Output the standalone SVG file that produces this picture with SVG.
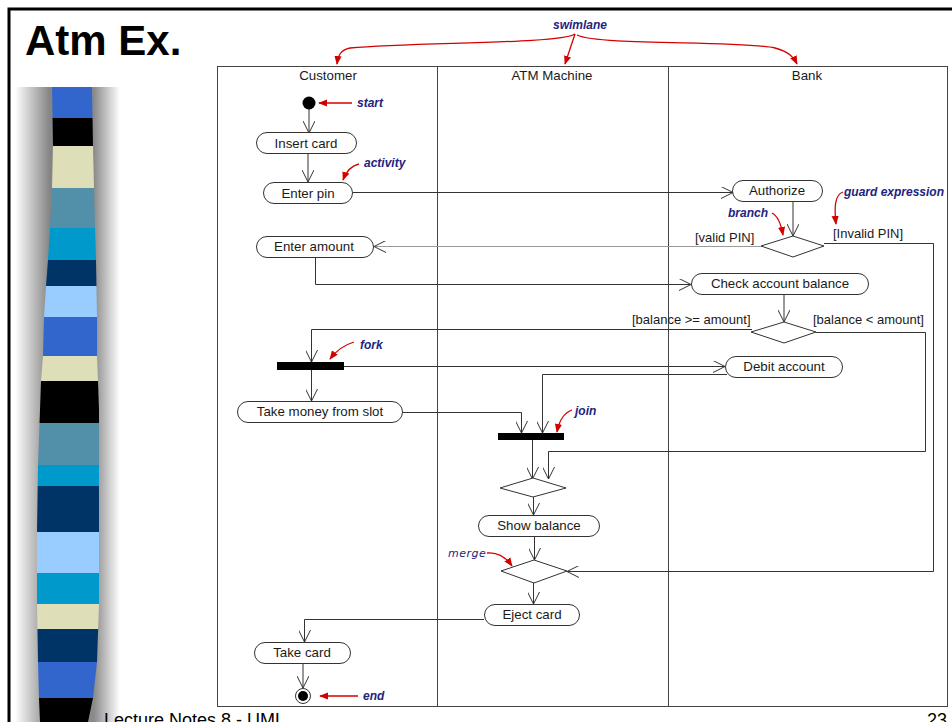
<svg xmlns="http://www.w3.org/2000/svg" width="952" height="722" viewBox="0 0 952 722">
  <defs>
    <style>
      .node { fill: #ffffff; stroke: #333333; stroke-width: 1; }
      .bar { fill: #000000; }
      .lbl { font-family: "Liberation Sans", Arial, sans-serif; font-size: 13.3px; fill: #1a1a1a; text-anchor: middle; }
      .guard { font-family: "Liberation Sans", Arial, sans-serif; font-size: 13px; fill: #1a1a1a; }
      .lane { fill: none; stroke: #444444; stroke-width: 1; }
      .flow { fill: none; stroke: #333333; stroke-width: 1; marker-end: url(#open); }
      .note { font-family: "Liberation Sans", Arial, sans-serif; font-size: 12px; font-weight: bold; font-style: italic; fill: #23237e; }
      .pointer { fill: none; stroke: #d40000; stroke-width: 1.3; marker-end: url(#redhead); }
    </style>
    <marker id="open" viewBox="0 0 12 12" refX="12" refY="6" markerWidth="12" markerHeight="12" markerUnits="userSpaceOnUse" orient="auto">
      <path d="M0,0 L12,6 L0,12" fill="none" stroke="#333333" stroke-width="1"/>
    </marker>
    <marker id="redhead" viewBox="0 0 10 8" refX="9" refY="4" markerWidth="9" markerHeight="8" markerUnits="userSpaceOnUse" orient="auto">
      <path d="M0,0 L10,4 L0,8 z" fill="#d40000"/>
    </marker>
    <linearGradient id="shade" gradientUnits="userSpaceOnUse" x1="15" y1="0" x2="120" y2="0">
      <stop offset="0" stop-color="#ffffff"/>
      <stop offset="0.33" stop-color="#858585"/>
      <stop offset="0.75" stop-color="#8a8a8a"/>
      <stop offset="1" stop-color="#ffffff"/>
    </linearGradient>
    <clipPath id="ribbon">
      <polygon points="52,87 53,146 52,188 50,228 48,260 46,286 44,317 43,356 41,381 40,410 38,465 37,532 37,604 38,662 39,698 40,722 88,722 93,698 97,662 99,604 99,465 99,410 98,381 97,356 97,317 96,260 95,228 94,188 93,146 92,87"/>
    </clipPath>
  </defs>

  <!-- slide background and frame -->
  <rect x="0" y="0" width="952" height="722" fill="#ffffff"/>
  <rect x="9" y="9" width="970" height="740" fill="none" stroke="#000000" stroke-width="3"/>

  <!-- decorative ribbon on the left -->
  <rect x="15" y="87" width="105" height="635" fill="url(#shade)"/>
  <g clip-path="url(#ribbon)">
    <rect x="30" y="87" width="80" height="31" fill="#3366cc"/>
    <rect x="30" y="118" width="80" height="28" fill="#000000"/>
    <rect x="30" y="146" width="80" height="42" fill="#dedeb9"/>
    <rect x="30" y="188" width="80" height="40" fill="#5190a8"/>
    <rect x="30" y="228" width="80" height="32" fill="#0099cc"/>
    <rect x="30" y="260" width="80" height="26" fill="#003366"/>
    <rect x="30" y="286" width="80" height="31" fill="#99ccff"/>
    <rect x="30" y="317" width="80" height="39" fill="#3366cc"/>
    <rect x="30" y="356" width="80" height="25" fill="#dedeb9"/>
    <rect x="30" y="381" width="80" height="42" fill="#000000"/>
    <rect x="30" y="423" width="80" height="42" fill="#5190a8"/>
    <rect x="30" y="465" width="80" height="21" fill="#0099cc"/>
    <rect x="30" y="486" width="80" height="46" fill="#003366"/>
    <rect x="30" y="532" width="80" height="41" fill="#99ccff"/>
    <rect x="30" y="573" width="80" height="31" fill="#0099cc"/>
    <rect x="30" y="604" width="80" height="25" fill="#dedeb9"/>
    <rect x="30" y="629" width="80" height="33" fill="#003366"/>
    <rect x="30" y="662" width="80" height="36" fill="#3366cc"/>
    <rect x="30" y="698" width="80" height="24" fill="#000000"/>
  </g>

  <!-- slide title and footer (footer runs off the bottom edge of the slide) -->
  <text x="25" y="55" font-family="Liberation Sans, Arial, sans-serif" font-size="42" font-weight="bold" fill="#000000">Atm Ex.</text>
  <text x="104" y="726" font-family="Liberation Sans, Arial, sans-serif" font-size="18" fill="#000000">Lecture Notes 8 - UML</text>
  <text x="927" y="726" font-family="Liberation Sans, Arial, sans-serif" font-size="18" fill="#000000">23</text>

  <!-- swimlanes -->
  <g id="swimlanes">
    <rect class="lane" x="217.5" y="66.5" width="730" height="640"/>
    <line class="lane" x1="437.5" y1="66.5" x2="437.5" y2="706.5"/>
    <line class="lane" x1="668.5" y1="66.5" x2="668.5" y2="706.5"/>
    <text class="lbl" x="328" y="80">Customer</text>
    <text class="lbl" x="552" y="80">ATM Machine</text>
    <text class="lbl" x="807" y="80">Bank</text>
  </g>

  <!-- connectors -->
  <g id="connectors">
    <line class="flow" x1="309" y1="109" x2="309" y2="133"/>
    <line class="flow" x1="308" y1="153" x2="308" y2="182"/>
    <polyline class="flow" points="353,192.5 733,192.5"/>
    <line class="flow" x1="793" y1="202" x2="793" y2="236"/>
    <line x1="761" y1="246.5" x2="374" y2="246.5" fill="none" stroke="#9a9a9a" stroke-width="1" marker-end="url(#open)"/>
    <polyline class="flow" points="824,243.5 933.5,243.5 933.5,571.5 567,571.5"/>
    <polyline class="flow" points="315.5,258 315.5,284.5 691,284.5"/>
    <line class="flow" x1="784" y1="295" x2="784" y2="322"/>
    <polyline class="flow" points="752,329.5 311.5,329.5 311.5,362"/>
    <polyline class="flow" points="816,332.5 925.5,332.5 925.5,451.5 548.5,451.5 548.5,479"/>
    <line class="flow" x1="311.5" y1="370" x2="311.5" y2="401"/>
    <polyline class="flow" points="344,366.5 725,366.5"/>
    <polyline class="flow" points="727,374.5 542.5,374.5 542.5,433"/>
    <polyline class="flow" points="403,412.5 521.5,412.5 521.5,433"/>
    <line class="flow" x1="532.5" y1="440" x2="532.5" y2="479"/>
    <line class="flow" x1="533.5" y1="497" x2="533.5" y2="515"/>
    <line class="flow" x1="534.5" y1="537" x2="534.5" y2="560"/>
    <line class="flow" x1="533.5" y1="583" x2="533.5" y2="604"/>
    <polyline class="flow" points="484,619.5 304.5,619.5 304.5,642"/>
    <line class="flow" x1="303" y1="663" x2="303" y2="688"/>
  </g>

  <!-- activity nodes -->
  <g id="start"><circle cx="309" cy="103" r="6.5" fill="#000000"/></g>
  <g id="insert-card">
    <rect class="node" x="256.5" y="132.5" width="100" height="21" rx="10.5"/>
    <text class="lbl" x="306" y="147.5">Insert card</text>
  </g>
  <g id="enter-pin">
    <rect class="node" x="263.5" y="182.5" width="89" height="21" rx="10.5"/>
    <text class="lbl" x="308" y="197.5">Enter pin</text>
  </g>
  <g id="enter-amount">
    <rect class="node" x="256.5" y="236.5" width="117" height="21" rx="10.5"/>
    <text class="lbl" x="314" y="251">Enter amount</text>
  </g>
  <g id="authorize">
    <rect class="node" x="732.5" y="180.5" width="90" height="21" rx="10.5"/>
    <text class="lbl" x="777" y="195">Authorize</text>
  </g>
  <g id="pin-branch">
    <polygon class="node" points="761,246 793,236 824,246 793,257"/>
    <text class="guard" x="695" y="242">[valid PIN]</text>
    <text class="guard" x="833" y="238">[Invalid PIN]</text>
  </g>
  <g id="check-balance">
    <rect class="node" x="691.5" y="273.5" width="177" height="21" rx="10.5"/>
    <text class="lbl" x="780" y="288">Check account balance</text>
  </g>
  <g id="balance-branch">
    <polygon class="node" points="751,332 784,322 816,332 784,343"/>
    <text class="guard" x="632" y="324">[balance &gt;= amount]</text>
    <text class="guard" x="813" y="324">[balance &lt; amount]</text>
  </g>
  <g id="fork"><rect class="bar" x="277" y="362" width="67" height="8"/></g>
  <g id="debit-account">
    <rect class="node" x="725.5" y="356.5" width="117" height="21" rx="10.5"/>
    <text class="lbl" x="784" y="371">Debit account</text>
  </g>
  <g id="take-money">
    <rect class="node" x="237.5" y="401.5" width="165" height="21" rx="10.5"/>
    <text class="lbl" x="320" y="416">Take money from slot</text>
  </g>
  <g id="join"><rect class="bar" x="498" y="433" width="66" height="7"/></g>
  <g id="balance-merge"><polygon class="node" points="500,488 533,478 566,488 533,497"/></g>
  <g id="show-balance">
    <rect class="node" x="478.5" y="515.5" width="121" height="21" rx="10.5"/>
    <text class="lbl" x="539" y="530">Show balance</text>
  </g>
  <g id="merge"><polygon class="node" points="501,571 534,560 567,571 534,583"/></g>
  <g id="eject-card">
    <rect class="node" x="484.5" y="604.5" width="95" height="21" rx="10.5"/>
    <text class="lbl" x="532" y="619">Eject card</text>
  </g>
  <g id="take-card">
    <rect class="node" x="254.5" y="642.5" width="96" height="21" rx="10.5"/>
    <text class="lbl" x="302" y="657">Take card</text>
  </g>
  <g id="end">
    <circle cx="303" cy="696" r="7.5" fill="#ffffff" stroke="#333333" stroke-width="1"/>
    <circle cx="303" cy="696" r="5" fill="#000000"/>
  </g>

  <!-- explanatory callouts -->
  <g id="callouts">
    <text class="note" x="580" y="29" text-anchor="middle">swimlane</text>
    <path class="pointer" d="M575,34 C560,44 420,42 350,48 C340,50 338,56 337,64"/>
    <path class="pointer" d="M575,34 L565,64"/>
    <path class="pointer" d="M577,35 C600,46 740,40 775,48 C790,52 794,58 797,64"/>

    <text class="note" x="357" y="107">start</text>
    <line class="pointer" x1="352" y1="103" x2="319" y2="103"/>

    <text class="note" x="364" y="167">activity</text>
    <path class="pointer" d="M359,164 C350,166 346,172 343,180"/>

    <text class="note" x="728" y="217">branch</text>
    <path class="pointer" d="M772,213 C778,216 781,224 783,235"/>

    <text class="note" x="844" y="196">guard expression</text>
    <path class="pointer" d="M843,192 C835,195 834,206 836,224"/>

    <text class="note" x="360" y="349">fork</text>
    <path class="pointer" d="M354,342 C344,345 336,351 330,359"/>

    <text class="note" x="575" y="415">join</text>
    <path class="pointer" d="M572,410 C564,413 559,421 557,432"/>

    <text x="448" y="557" font-family="DejaVu Sans, sans-serif" font-size="11" font-style="italic" letter-spacing="0.5" fill="#23237e">merge</text>
    <path class="pointer" d="M487,553 C497,552 505,556 512,566"/>

    <text class="note" x="363" y="700">end</text>
    <line class="pointer" x1="358" y1="696" x2="320" y2="696"/>
  </g>
</svg>
